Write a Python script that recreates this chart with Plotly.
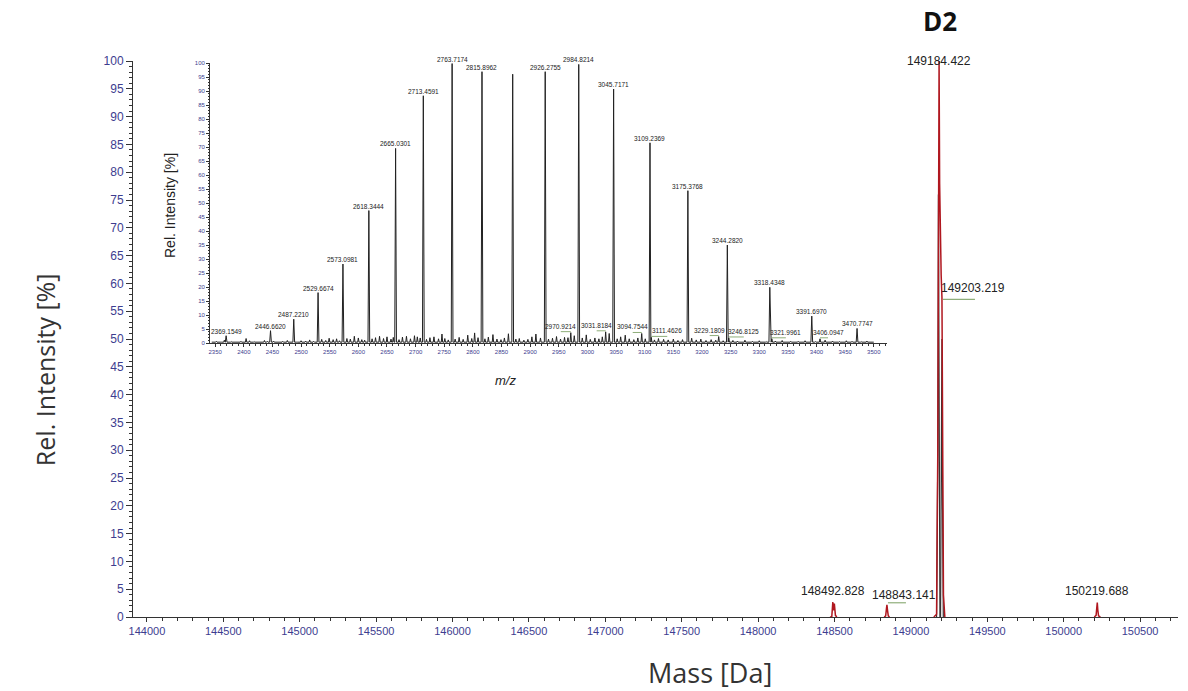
import plotly.graph_objects as go

# ---------------- main (deconvoluted) spectrum data ----------------
deconv_mass = [148470, 148482, 148486, 148489, 148492.8, 148496, 148499, 148502, 148506, 148515, None,
               148825, 148835, 148840, 148843.1, 148847, 148852, 148860, None,
               149150, 149168, 149176, 149181, 149184.4, 149188, 149193, 149198, 149203.2, 149208, 149213, 149222, None,
               150200, 150212, 150216, 150219.7, 150223, 150228, 150240]
deconv_int = [0, 0, 1.5, 2.7, 2.0, 1.2, 2.4, 1.5, 0.3, 0, None,
              0, 0.2, 1.5, 2.2, 1.2, 0.2, 0, None,
              0, 0.5, 30, 88, 100, 78, 64, 61.5, 57.5, 28, 4, 0, None,
              0, 0.3, 1.5, 2.6, 1.3, 0.2, 0]
raw_mass = [149168, 149176, 149180, 149184, 149190, None, 149194, 149199, 149203, 149207, 149212]
raw_int = [0, 30, 76, 20, 0, None, 0, 30, 50, 20, 0]

main_label_mass = [149184.422, 149203.219, 148492.828, 148843.141, 150219.688]
main_label_int = [100, 57.5, 2.7, 2.2, 2.6]
main_label_text = ["149184.422", "149203.219", "148492.828", "148843.141", "150219.688"]

# ---------------- inset (raw m/z) spectrum data ----------------
peak_mz = [2369.1549, 2446.6620, 2487.2210, 2529.6674, 2573.0981, 2618.3444, 2665.0301, 2713.4591,
           2763.7174, 2815.8962, 2869.5, 2926.2755, 2984.8214, 3045.7171, 3109.2369, 3175.3768,
           3244.2820, 3318.4348, 3391.6970, 3470.7747]
peak_int = [2.6, 4.4, 8.5, 18, 28.2, 47.3, 69.5, 88.3, 99.8, 96.9, 96.0, 96.9, 99.5, 90.7, 71.5, 54.4,
            35.0, 19.9, 9.6, 5.2]
peak_text = ["2369.1549", "2446.6620", "2487.2210", "2529.6674", "2573.0981", "2618.3444", "2665.0301",
             "2713.4591", "2763.7174", "2815.8962", "", "2926.2755", "2984.8214", "3045.7171", "3109.2369",
             "3175.3768", "3244.2820", "3318.4348", "3391.6970", "3470.7747"]

small_mz = [2970.9214, 3031.8184, 3094.7544, 3111.4626, 3229.1809, 3246.8125, 3321.9961, 3406.0947]
small_int = [3.7, 4.0, 3.4, 2.0, 2.3, 1.8, 1.5, 1.5]
small_text = ["2970.9214", "3031.8184", "3094.7544", "3111.4626", "3229.1809", "3246.8125", "3321.9961", "3406.0947"]

noise_mz = [2352, 2360, 2366, 2378, 2386, 2395, 2404, 2410, 2418, 2428,
            2436, 2441, 2452, 2458, 2468, 2476, 2482, 2493, 2500, 2508,
            2515, 2522, 2536, 2543, 2549, 2556, 2562, 2567, 2580, 2586,
            2593, 2600, 2606, 2611, 2624, 2630, 2637, 2644, 2650, 2657,
            2661, 2671, 2677, 2684, 2691, 2698, 2703, 2708, 2719, 2725,
            2732, 2740, 2746, 2751, 2757, 2769, 2776, 2783, 2791, 2798,
            2803, 2809, 2821, 2827, 2835, 2842, 2849, 2855, 2862, 2875,
            2881, 2889, 2896, 2903, 2910, 2918, 2932, 2939, 2946, 2953,
            2960, 2966, 2977, 2991, 2998, 3005, 3013, 3020, 3026, 3038,
            3052, 3058, 3066, 3073, 3081, 3088, 3101, 3117, 3124, 3133,
            3141, 3150, 3158, 3166, 3182, 3190, 3198, 3207, 3216, 3224,
            3237, 3254, 3262, 3275, 3288, 3300, 3312, 3328, 3340, 3355,
            3368, 3380, 3398, 3415, 3428, 3440, 3452, 3462, 3478, 3488]
noise_int = [0.6, 0.4, 1.0, 0.5, 0.3, 0.6, 1.6, 0.8, 0.5, 0.4,
             0.9, 0.6, 0.7, 0.5, 0.6, 0.9, 0.5, 0.4, 0.8, 0.7,
             1.1, 0.6, 1.3, 0.9, 1.7, 1.2, 1.5, 0.8, 1.6, 1.4,
             2.4, 1.8, 1.2, 1.0, 1.5, 1.9, 2.4, 1.6, 2.2, 1.4,
             2.0, 1.2, 2.1, 2.4, 1.5, 2.6, 2.2, 1.8, 1.3, 1.9,
             2.2, 1.5, 3.2, 1.6, 1.1, 1.4, 2.0, 1.3, 2.8, 1.6,
             3.6, 1.9, 1.5, 2.1, 3.0, 1.4, 1.2, 1.8, 3.3, 1.4,
             1.6, 1.0, 1.3, 2.2, 3.2, 1.8, 1.4, 1.7, 2.3, 1.4,
             2.0, 1.9, 2.6, 1.8, 2.9, 1.3, 1.8, 1.5, 2.2, 3.4,
             1.5, 2.2, 2.8, 1.5, 1.2, 1.8, 1.5, 1.1, 1.6, 1.3,
             1.1, 1.4, 0.9, 1.2, 1.7, 1.1, 1.4, 0.9, 1.2, 1.0,
             0.8, 0.9, 0.7, 1.0, 0.6, 0.8, 0.5, 0.7, 0.9, 0.6,
             0.6, 0.8, 0.5, 1.0, 0.7, 0.5, 0.8, 0.6, 0.5, 0.7]

# ---------------- styling constants ----------------
TICK_BLUE = "#3d3d8f"
AXIS_COL = "#333333"
RED = "#b0171f"
LEAD_GREEN = "#8fae7a"

# build inset stick profile from the data lists
sticks = sorted(list(zip(peak_mz, peak_int, [1.5] * len(peak_mz))) +
                list(zip(small_mz, small_int, [1.2] * len(small_mz))) +
                list(zip(noise_mz, noise_int, [1.2] * len(noise_mz))))
ins_x, ins_y = [2344], [0.3]
for m, h, hw in sticks:
    ins_x += [m - hw, m, m + hw]
    ins_y += [0.3, h, 0.3]
ins_x.append(3500)
ins_y.append(0.3)

fig = go.Figure()
fig.add_trace(go.Scatter(x=raw_mass, y=raw_int, mode="lines", line=dict(color="#333333", width=1.2),
                         connectgaps=False, hoverinfo="skip"))
fig.add_trace(go.Scatter(x=deconv_mass, y=deconv_int, mode="lines", line=dict(color=RED, width=1.5),
                         connectgaps=False, hoverinfo="skip"))
fig.add_trace(go.Scatter(x=ins_x, y=ins_y, mode="lines", line=dict(color="#222222", width=1),
                         xaxis="x2", yaxis="y2", hoverinfo="skip"))

annotations = []
# main labels
lab_font = dict(family="Arial", size=12, color="#222222")
main_dx = [0, 31, 0, 17, 0]
main_anchor = ["middle", "bottom", "bottom", "bottom", "bottom"]
main_ys = [0, 0, 2, 1, 3]
for m, h, t, dx, ya, ys in zip(main_label_mass, main_label_int, main_label_text, main_dx, main_anchor, main_ys):
    annotations.append(dict(x=m, y=h, xref="x", yref="y", text=t, showarrow=False, font=lab_font,
                            xanchor="center", yanchor=ya, xshift=dx, yshift=ys))

# inset labels
ins_font = dict(family="Arial", size=6.5, color="#222222")
for m, h, t in zip(peak_mz, peak_int, peak_text):
    if t:
        annotations.append(dict(x=m, y=h, xref="x2", yref="y2", text=t, showarrow=False, font=ins_font,
                                xanchor="center", yanchor="bottom", yshift=-1))
small_dx = [-10, -9, -9, 16, -9, 15, 14, 8]
for m, h, t, dx in zip(small_mz, small_int, small_text, small_dx):
    annotations.append(dict(x=m, y=h, xref="x2", yref="y2", text=t, showarrow=False, font=ins_font,
                            xanchor="center", yanchor="bottom", xshift=dx, yshift=1))

# titles
title_common = dict(xref="paper", yref="paper", showarrow=False, xanchor="center", yanchor="middle")
annotations += [
    dict(x=-0.0842, y=0.444, text="Rel. Intensity [%]", textangle=-90,
         font=dict(family="Open Sans", size=25, color="#333333"), **title_common),
    dict(x=0.552, y=-0.1, text="Mass [Da]",
         font=dict(family="Open Sans", size=27, color="#333333"), **title_common),
    dict(x=0.772, y=1.072, text="<b>D2</b>",
         font=dict(family="Open Sans", size=26, color="#111111"), **title_common),
    dict(x=0.0354, y=0.741, text="Rel. Intensity [%]", textangle=-90,
         font=dict(family="Arial", size=14, color="#222222"), **title_common),
    dict(x=0.356, y=0.426, text="<i>m/z</i>",
         font=dict(family="Arial", size=13, color="#222222"), **title_common),
]

shapes = []
# leader lines for main labels
for m, h, dx, y0 in [(main_label_mass[1], main_label_int[1], 31, -2), (main_label_mass[3], main_label_int[3], 17, 2)]:
    shapes.append(dict(type="line", xref="x", yref="y", xsizemode="pixel", ysizemode="pixel",
                       xanchor=m, yanchor=h, x0=1, x1=dx + 2, y0=y0, y1=y0,
                       line=dict(color=LEAD_GREEN, width=1.2)))
for m, h, dx in zip(small_mz, small_int, small_dx):
    shapes.append(dict(type="line", xref="x2", yref="y2", xsizemode="pixel", ysizemode="pixel",
                       xanchor=m, yanchor=h, x0=0, x1=dx, y0=1, y1=1,
                       line=dict(color=LEAD_GREEN, width=1)))

axis_common = dict(showline=True, linecolor=AXIS_COL, linewidth=1, ticks="outside", tickcolor=AXIS_COL,
                   showgrid=False, zeroline=False, mirror=False)

fig.update_layout(
    width=1188, height=691,
    margin=dict(l=133, r=10, t=61, b=74),
    paper_bgcolor="white", plot_bgcolor="white",
    showlegend=False,
    xaxis=dict(range=[143909, 150748], tick0=144000, dtick=500, tickformat="d", ticklen=4,
               tickfont=dict(family="Arial", size=11, color=TICK_BLUE),
               minor=dict(dtick=100, ticks="outside", ticklen=3, tickcolor=AXIS_COL), **axis_common),
    yaxis=dict(range=[0, 100], tick0=0, dtick=5, ticklen=6,
               tickfont=dict(family="Arial", size=12, color=TICK_BLUE),
               minor=dict(dtick=1, ticks="outside", ticklen=3, tickcolor=AXIS_COL), **axis_common),
    xaxis2=dict(domain=[0.0737, 0.7215], anchor="y2", range=[2341, 3523], tick0=2350, dtick=50, ticklen=3,
                tickformat="d", tickfont=dict(family="Arial", size=6, color=TICK_BLUE),
                minor=dict(dtick=10, ticks="outside", ticklen=2, tickcolor=AXIS_COL), **axis_common),
    yaxis2=dict(domain=[0.4928, 0.9964], anchor="x2", range=[0, 100], tick0=0, dtick=5, ticklen=3,
                tickfont=dict(family="Arial", size=6, color=TICK_BLUE),
                minor=dict(dtick=1, ticks="outside", ticklen=1.5, tickcolor=AXIS_COL), **axis_common),
    annotations=annotations,
    shapes=shapes,
)

fig.write_html("out.html", config={"displayModeBar": False},
               post_script="document.body.style.margin='0';document.body.style.overflow='hidden';")
